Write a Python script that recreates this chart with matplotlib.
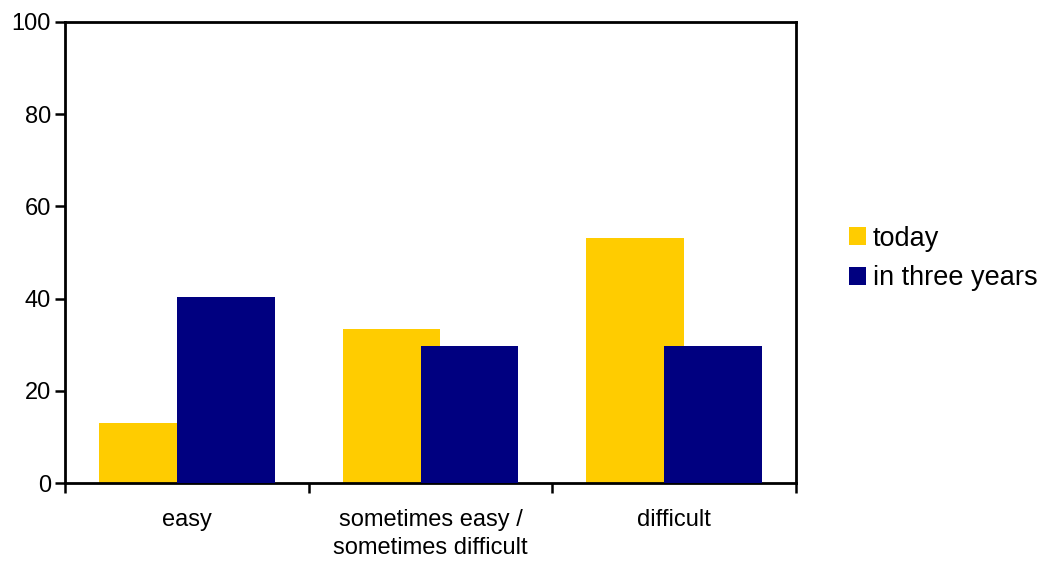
import numpy as np
import matplotlib.pyplot as plt

plt.rcParams['font.family'] = ['Liberation Sans', 'DejaVu Sans']

# data
categories = ['easy', 'sometimes easy /\nsometimes difficult', 'difficult']
today = [13.1, 33.4, 53.2]
in_three_years = [40.4, 29.8, 29.8]
yticks = [0, 20, 40, 60, 80, 100]

fig = plt.figure(figsize=(10.45, 5.63), dpi=100)
ax = fig.add_axes([0.0622, 0.142, 0.6995, 0.819])

x = np.arange(len(categories))
w = 0.40
ax.bar(x - 0.16, today, width=w, color='#FFCC00', label='today', zorder=2)
ax.bar(x + 0.16, in_three_years, width=w, color='#000080', label='in three years', zorder=3)

ax.set_xlim(-0.5, len(categories) - 0.5)
ax.set_ylim(0, 100)
ax.set_yticks(yticks)
ax.tick_params(axis='y', labelsize=17, direction='out', length=7, width=1.8, pad=3)

ax.set_xticks(x)
ax.set_xticklabels(categories, fontsize=17, linespacing=1.3)
ax.tick_params(axis='x', which='major', length=0, pad=19)
ax.set_xticks(np.arange(len(categories) + 1) - 0.5, minor=True)
ax.tick_params(axis='x', which='minor', direction='out', length=7, width=1.8)

for s in ax.spines.values():
    s.set_linewidth(2)
    s.set_color('black')

fig.legend(loc='center left', bbox_to_anchor=(0.812, 0.541), frameon=False,
           fontsize=19.5, handlelength=0.65, handleheight=0.65, handletextpad=0.25,
           labelspacing=0.5, borderpad=0, borderaxespad=0)

fig.savefig('out.png', dpi=100)
